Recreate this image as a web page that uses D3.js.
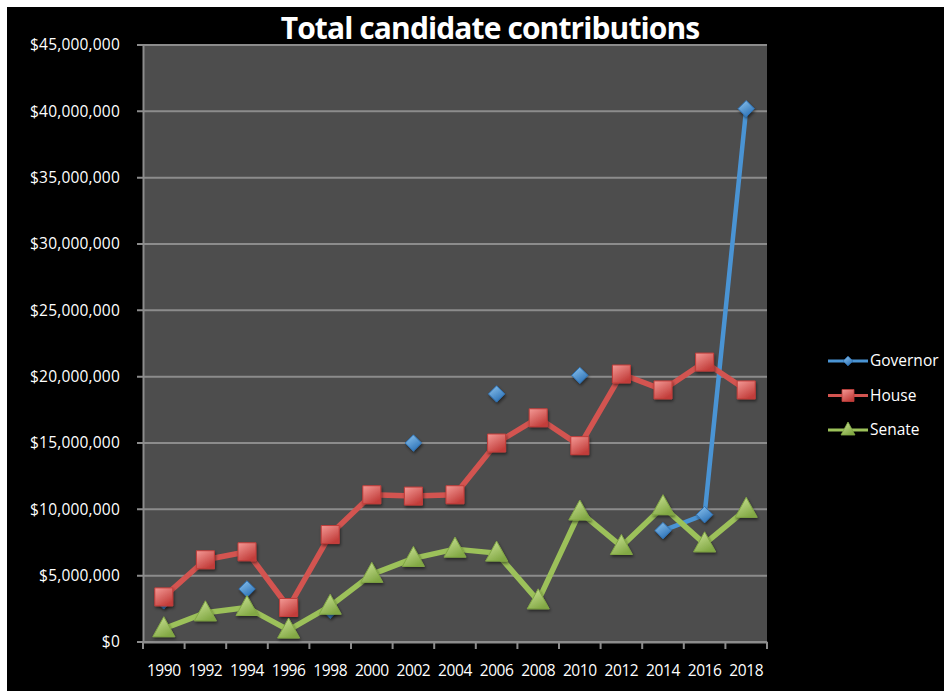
<!DOCTYPE html>
<html>
<head>
<meta charset="utf-8">
<script src="https://cdn.jsdelivr.net/npm/d3@7"></script>
<style>
	body { margin: 0; background: #fff; }
	text { font-family: 'Open Sans', sans-serif; }
</style>
</head>
<body>
<div id="chart"></div>
<script>
var years = ['1990', '1992', '1994', '1996', '1998', '2000', '2002', '2004', '2006', '2008', '2010', '2012', '2014', '2016', '2018']
var governor = [3.1e6, null, 4.0e6, null, 2.4e6, null, 15.0e6, null, 18.7e6, null, 20.1e6, null, 8.4e6, 9.6e6, 40.2e6]
var house = [3.4e6, 6.2e6, 6.8e6, 2.6e6, 8.1e6, 11.1e6, 11.0e6, 11.1e6, 15.0e6, 16.9e6, 14.8e6, 20.2e6, 19.0e6, 21.1e6, 19.0e6]
var senate = [1.0e6, 2.2e6, 2.6e6, 0.9e6, 2.7e6, 5.1e6, 6.3e6, 7.0e6, 6.7e6, 3.1e6, 9.8e6, 7.2e6, 10.2e6, 7.4e6, 10.0e6]
var yTicks = [0, 5e6, 10e6, 15e6, 20e6, 25e6, 30e6, 35e6, 40e6, 45e6]

var series = [
	{ name: 'Governor', values: governor, color: '#4a94d4', light: '#8fc6f0', dark: '#2f74b8', shape: 'diamond', width: 4.5 },
	{ name: 'House', values: house, color: '#d35450', light: '#f49a96', dark: '#c23d3a', shape: 'square', width: 5.5 },
	{ name: 'Senate', values: senate, color: '#9cc15a', light: '#cfe69a', dark: '#82a844', shape: 'triangle', width: 5.5 }
]

var width = 944, height = 691
var plot = { left: 143, right: 767, top: 45, bottom: 642 }

var svg = d3.select('#chart').append('svg')
	.attr('width', width)
	.attr('height', height)

// black backdrop (white strip at top/left like the screenshot)
svg.append('rect')
	.attr('x', 7).attr('y', 7)
	.attr('width', width - 7).attr('height', height - 7)
	.attr('fill', '#000')

var defs = svg.append('defs')
var shadow = defs.append('filter').attr('id', 'shadow')
	.attr('x', '-50%').attr('y', '-50%').attr('width', '200%').attr('height', '200%')
shadow.append('feDropShadow')
	.attr('dx', 1).attr('dy', 2).attr('stdDeviation', 1.5)
	.attr('flood-color', '#000').attr('flood-opacity', 0.5)

series.forEach(s => {
	var g = defs.append('linearGradient').attr('id', 'grad-' + s.name)
		.attr('x1', 0).attr('y1', 0).attr('x2', 0.6).attr('y2', 1)
	g.append('stop').attr('offset', '0%').attr('stop-color', s.light)
	g.append('stop').attr('offset', '100%').attr('stop-color', s.dark)
})

var x = d3.scaleBand()
	.domain(years)
	.range([plot.left, plot.right])

var y = d3.scaleLinear()
	.domain([0, 45e6])
	.range([plot.bottom, plot.top])

// plot area
svg.append('rect')
	.attr('x', plot.left).attr('y', plot.top)
	.attr('width', plot.right - plot.left).attr('height', plot.bottom - plot.top)
	.attr('fill', '#4d4d4d')

// gridlines
svg.append('g')
	.selectAll('line')
	.data(yTicks)
	.enter()
	.append('line')
	.attr('x1', plot.left - 6)
	.attr('x2', plot.right)
	.attr('y1', d => y(d))
	.attr('y2', d => y(d))
	.attr('stroke', '#8c8c8c')
	.attr('stroke-width', 2)

// y axis
var yAxis = svg.append('g')
	.attr('transform', 'translate(' + plot.left + ',0)')
	.call(d3.axisLeft(y).tickValues(yTicks).tickSize(0).tickPadding(23)
		.tickFormat(d => '$' + d3.format(',')(d)))
yAxis.select('.domain').attr('stroke', '#8c8c8c').attr('stroke-width', 2)
yAxis.selectAll('text')
	.attr('fill', '#fff')
	.style('font-size', '15.5px')
	.attr('letter-spacing', '0.2')

// x axis with ticks between categories
var xAxis = svg.append('g')
	.attr('transform', 'translate(0,' + plot.bottom + ')')
	.call(d3.axisBottom(x).tickSize(0).tickPadding(23))
xAxis.select('.domain').attr('stroke', '#8c8c8c').attr('stroke-width', 2)
xAxis.selectAll('text')
	.attr('fill', '#fff')
	.style('font-size', '15.5px')
	.attr('letter-spacing', '-0.4')

svg.append('g')
	.selectAll('line')
	.data(years.concat(['end']))
	.enter()
	.append('line')
	.attr('x1', (d, i) => plot.left + i * x.step())
	.attr('x2', (d, i) => plot.left + i * x.step())
	.attr('y1', plot.bottom)
	.attr('y2', plot.bottom + 7)
	.attr('stroke', '#8c8c8c')
	.attr('stroke-width', 2)

function markerPath(shape) {
	if (shape == 'diamond') return d3.symbol().type(d3.symbolDiamond2).size(170)()
	if (shape == 'square') return 'M-9,-9H9V9H-9Z'
	return 'M0,-12L11,8H-11Z'
}

var line = d3.line()
	.defined(d => d != null)
	.x((d, i) => x(years[i]) + x.bandwidth() / 2)
	.y(d => y(d))

series.forEach(s => {
	svg.append('path')
		.datum(s.values)
		.attr('fill', 'none')
		.attr('stroke', s.color)
		.attr('stroke-width', s.width)
		.attr('stroke-linejoin', 'round')
		.attr('d', (vals) => line(vals))
})

series.forEach(s => {
	svg.append('g')
		.selectAll('path')
		.data(s.values.map((v, i) => ({ v: v, year: years[i] })).filter(d => d.v != null))
		.enter()
		.append('path')
		.attr('d', markerPath(s.shape))
		.attr('transform', d => 'translate(' + (x(d.year) + x.bandwidth() / 2) + ',' + y(d.v) + ')')
		.attr('fill', 'url(#grad-' + s.name + ')')
		.attr('stroke', s.dark)
		.attr('stroke-width', 1)
		.attr('filter', 'url(#shadow)')
})

// title
svg.append('text')
	.attr('x', 490)
	.attr('y', 39)
	.attr('text-anchor', 'middle')
	.attr('fill', '#fff')
	.style('font-size', '30px')
	.style('font-weight', 'bold')
	.attr('letter-spacing', '-0.9')
	.text('Total candidate contributions')

// legend
var legend = svg.append('g')
	.attr('transform', 'translate(828,361)')

var item = legend.selectAll('g')
	.data(series)
	.enter()
	.append('g')
	.attr('transform', (d, i) => 'translate(0,' + (i * 34.5) + ')')

item.append('line')
	.attr('x1', 0).attr('x2', 40)
	.attr('stroke', d => d.color)
	.attr('stroke-width', 3)

item.append('path')
	.attr('d', d => d.shape == 'diamond' ? d3.symbol().type(d3.symbolDiamond2).size(60)()
		: d.shape == 'square' ? 'M-6,-6H6V6H-6Z' : 'M0,-8L7,5H-7Z')
	.attr('transform', 'translate(20,0)')
	.attr('fill', d => 'url(#grad-' + d.name + ')')
	.attr('stroke', d => d.dark)
	.attr('stroke-width', 0.8)

item.append('text')
	.attr('x', 42)
	.attr('dy', '0.35em')
	.attr('fill', '#fff')
	.style('font-size', '15.5px')
	.text(d => d.name)
</script>
</body>
</html>
